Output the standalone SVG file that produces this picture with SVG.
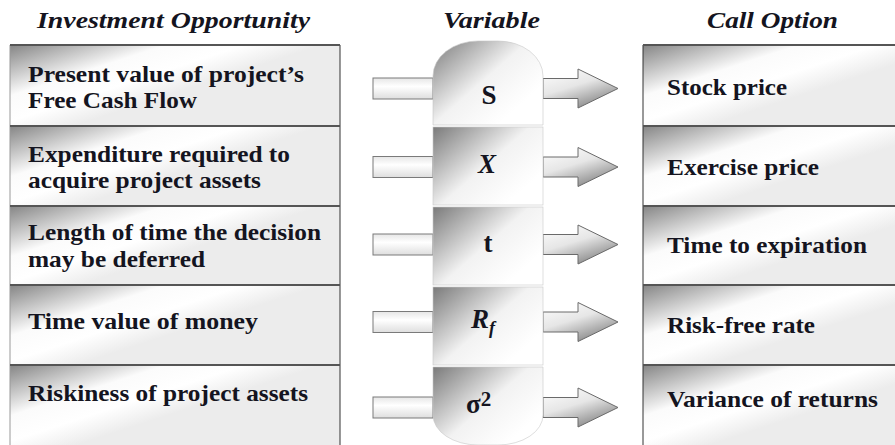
<svg xmlns="http://www.w3.org/2000/svg" width="895" height="445" viewBox="0 0 895 445">
<defs>
<linearGradient id="rowG" gradientUnits="userSpaceOnUse" x1="0" y1="0" x2="30" y2="92">
<stop offset="0" stop-color="#858585"/>
<stop offset="0.5" stop-color="#fbfbfb"/>
<stop offset="0.75" stop-color="#ffffff"/>
<stop offset="1" stop-color="#ececec"/>
</linearGradient>
<linearGradient id="varG" gradientUnits="userSpaceOnUse" x1="0" y1="0" x2="70" y2="80">
<stop offset="0" stop-color="#7a7a7a"/>
<stop offset="0.6" stop-color="#f2f2f2"/>
<stop offset="1" stop-color="#ffffff"/>
</linearGradient>
<linearGradient id="shaftG" x1="0" y1="0" x2="0" y2="1">
<stop offset="0" stop-color="#e6e6e6"/>
<stop offset="0.4" stop-color="#ffffff"/>
<stop offset="1" stop-color="#dedede"/>
</linearGradient>
<linearGradient id="arrowG" x1="0" y1="0" x2="0.6" y2="1">
<stop offset="0" stop-color="#ffffff"/>
<stop offset="0.5" stop-color="#e6e6e6"/>
<stop offset="1" stop-color="#8a8a8a"/>
</linearGradient>
</defs>
<style>
.hdr{font-weight:bold;font-style:italic;font-size:23px}
.txt{font-weight:bold;font-size:23px}
.var{font-weight:bold;font-size:27px}
.row{fill:url(#rowG)}
.sep{stroke:#555;stroke-width:2}
.edge{stroke:#333;stroke-width:1}
.vbox{fill:url(#varG);stroke:#c8c8c8;stroke-width:0.6}
.shaft{fill:url(#shaftG);stroke:#7a7a7a;stroke-width:1}
.arrow{fill:url(#arrowG);stroke:#6a6a6a;stroke-width:1}
</style>
<rect width="895" height="445" fill="#ffffff"/>

<g font-family="Liberation Serif, serif" fill="#141420">
<g id="headers">
<text class="hdr" x="37" y="28" textLength="273" lengthAdjust="spacingAndGlyphs">Investment Opportunity</text>
<text class="hdr" x="443" y="28" textLength="97" lengthAdjust="spacingAndGlyphs">Variable</text>
<text class="hdr" x="707" y="28" textLength="131" lengthAdjust="spacingAndGlyphs">Call Option</text>
</g>

<g id="investment-column">
<g id="inv-1">
<rect class="row" width="330" height="81" transform="translate(10,45)"/>
<text class="txt" x="28" y="82" textLength="276" lengthAdjust="spacingAndGlyphs">Present value of project’s</text>
<text class="txt" x="28" y="108" textLength="169" lengthAdjust="spacingAndGlyphs">Free Cash Flow</text>
</g>
<g id="inv-2">
<rect class="row" width="330" height="80" transform="translate(10,126)"/>
<text class="txt" x="28" y="162" textLength="262" lengthAdjust="spacingAndGlyphs">Expenditure required to</text>
<text class="txt" x="28" y="188" textLength="233" lengthAdjust="spacingAndGlyphs">acquire project assets</text>
</g>
<g id="inv-3">
<rect class="row" width="330" height="79" transform="translate(10,206)"/>
<text class="txt" x="28" y="240" textLength="293" lengthAdjust="spacingAndGlyphs">Length of time the decision</text>
<text class="txt" x="28" y="267" textLength="177" lengthAdjust="spacingAndGlyphs">may be deferred</text>
</g>
<g id="inv-4">
<rect class="row" width="330" height="80" transform="translate(10,285)"/>
<text class="txt" x="28" y="329" textLength="230" lengthAdjust="spacingAndGlyphs">Time value of money</text>
</g>
<g id="inv-5">
<rect class="row" width="330" height="80" transform="translate(10,365)"/>
<text class="txt" x="28" y="401" textLength="280" lengthAdjust="spacingAndGlyphs">Riskiness of project assets</text>
</g>
<line x1="10" y1="45" x2="10" y2="445" stroke="#999" stroke-width="1"/>
<line class="edge" x1="340" y1="45" x2="340" y2="445"/>
<line class="sep" x1="10" y1="45" x2="340" y2="45"/>
<line class="sep" x1="10" y1="126" x2="340" y2="126"/>
<line class="sep" x1="10" y1="206" x2="340" y2="206"/>
<line class="sep" x1="10" y1="285" x2="340" y2="285"/>
<line class="sep" x1="10" y1="365" x2="340" y2="365"/>
</g>

<g id="call-column">
<g id="call-1">
<rect class="row" width="252" height="81" transform="translate(643,45)"/>
<text class="txt" x="667" y="95" textLength="120" lengthAdjust="spacingAndGlyphs">Stock price</text>
</g>
<g id="call-2">
<rect class="row" width="252" height="80" transform="translate(643,126)"/>
<text class="txt" x="667" y="175" textLength="152" lengthAdjust="spacingAndGlyphs">Exercise price</text>
</g>
<g id="call-3">
<rect class="row" width="252" height="79" transform="translate(643,206)"/>
<text class="txt" x="667" y="253" textLength="200" lengthAdjust="spacingAndGlyphs">Time to expiration</text>
</g>
<g id="call-4">
<rect class="row" width="252" height="80" transform="translate(643,285)"/>
<text class="txt" x="667" y="333" textLength="148" lengthAdjust="spacingAndGlyphs">Risk-free rate</text>
</g>
<g id="call-5">
<rect class="row" width="252" height="80" transform="translate(643,365)"/>
<text class="txt" x="667" y="407" textLength="211" lengthAdjust="spacingAndGlyphs">Variance of returns</text>
</g>
<line class="edge" x1="643" y1="45" x2="643" y2="445"/>
<line class="sep" x1="643" y1="45" x2="895" y2="45"/>
<line class="sep" x1="643" y1="126" x2="895" y2="126"/>
<line class="sep" x1="643" y1="206" x2="895" y2="206"/>
<line class="sep" x1="643" y1="285" x2="895" y2="285"/>
<line class="sep" x1="643" y1="365" x2="895" y2="365"/>
</g>

<g id="connectors">
<rect class="shaft" x="373" y="78" width="60" height="21"/>
<path class="arrow" d="M543,78.5 H578 V69 L618,88.5 L578,108 V98.5 H543 Z"/>
<rect class="shaft" x="373" y="156.5" width="60" height="21"/>
<path class="arrow" d="M543,157 H578 V147.5 L618,167 L578,186.5 V177 H543 Z"/>
<rect class="shaft" x="373" y="234" width="60" height="21"/>
<path class="arrow" d="M543,234.5 H578 V225 L618,244.5 L578,264 V254.5 H543 Z"/>
<rect class="shaft" x="373" y="311.5" width="60" height="21"/>
<path class="arrow" d="M543,312 H578 V302.5 L618,322 L578,341.5 V332 H543 Z"/>
<rect class="shaft" x="373" y="397" width="60" height="21"/>
<path class="arrow" d="M543,397.5 H578 V388 L618,407.5 L578,427 V417.5 H543 Z"/>
</g>

<g id="var-S">
<path class="vbox" transform="translate(433,40)" d="M0,85 V36 A45,35 0 0 1 45,1 H65 A45,35 0 0 1 110,36 V85 Z"/>
<text class="var" x="489" y="104" text-anchor="middle">S</text>
</g>
<g id="var-X">
<rect class="vbox" width="110" height="78" transform="translate(433,127)"/>
<text class="var" x="487" y="173" text-anchor="middle" font-style="italic">X</text>
</g>
<g id="var-t">
<rect class="vbox" width="110" height="78" transform="translate(433,207)"/>
<text class="var" x="488" y="252" text-anchor="middle">t</text>
</g>
<g id="var-Rf">
<rect class="vbox" width="110" height="78" transform="translate(433,287)"/>
<text class="var" x="471" y="328" font-style="italic">R<tspan font-size="18" dy="6">f</tspan></text>
</g>
<g id="var-sigma">
<path class="vbox" transform="translate(433,367)" d="M0,0 H110 V48 A45,30 0 0 1 65,78 H45 A45,30 0 0 1 0,48 Z"/>
<text class="var" x="466" y="413" font-size="30" font-weight="normal">σ<tspan font-size="21" font-weight="bold" dy="-7">2</tspan></text>
</g>
</g>
</svg>
